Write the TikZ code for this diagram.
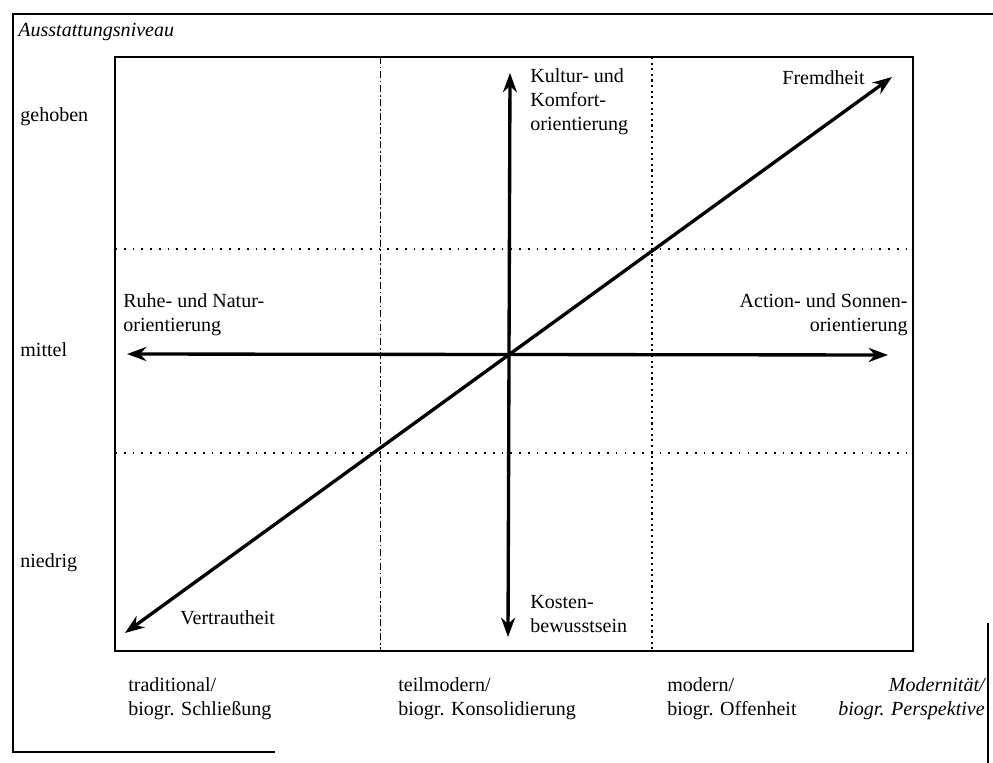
\documentclass[tikz,border=0pt]{standalone}
\usepackage{fontspec}
\setmainfont{Liberation Serif}
\usetikzlibrary{arrows.meta}
\begin{document}
\begin{tikzpicture}[x = 0.02cm, y = -0.02cm,
  lbl/.style = {inner sep = 0pt, font = \fontsize{11.4}{13.6}\selectfont, align = left},
  axis/.style = {line width = 1.9pt, {Stealth[length = 11pt, width = 8pt]}-{Stealth[length = 11pt, width = 8pt]}}]
\useasboundingbox (0,0) rectangle (993,763);
\draw [line width = 1.1pt] (275,752) -- (13,752) -- (13,14) -- (993,14);
\draw [line width = 1.1pt] (988,623) -- (988,763);
\draw [line width = 1.6pt] (115,57) rectangle (913,651);
\draw [line width = 0.5pt, dash pattern = on 4pt off 1.5pt on 1pt off 1.5pt] (380,57) -- (380,651);
\draw [line width = 1.4pt, dash pattern = on 1.2pt off 2pt] (652,57) -- (652,651);
\foreach \y in {249,453} \draw [line width = 0.6pt, dash pattern = on 1pt off 4pt] (115,\y) -- (913,\y);
\node [lbl, anchor = west, font = \fontsize{11.4}{13.6}\selectfont\itshape] (niveau) at (18,32) {Ausstattungsniveau};
\foreach \t/\y/\n in {gehoben/117/hoch, mittel/350/mitte, niedrig/563/tief}
  \node [lbl, anchor = west] (\n) at (20,\y) {\t};
\coordinate (trad) at (125,633);
\coordinate (fremd) at (892,77);
\coordinate (kult) at (510,73);
\coordinate (kost) at (508,637);
\coordinate (ruhe) at (127,354);
\coordinate (action) at (888,355);
\draw [axis] (trad) -- (fremd);
\draw [axis] (kost) -- (kult);
\draw [axis] (ruhe) -- (action);
\node [lbl, anchor = north west] (kultur) at (530,68) {Kultur- und\\Komfort-\\orientierung};
\node [lbl, anchor = west] (fremdheit) at (782,78) {Fremdheit};
\node [lbl, anchor = north west] (natur) at (123,293) {Ruhe- und Natur-\\orientierung};
\node [lbl, anchor = north east, align = right] (sonne) at (908,293) {Action- und Sonnen-\\orientierung};
\node [lbl, anchor = north west] (kosten) at (530,595) {Kosten-\\bewusstsein};
\node [lbl, anchor = west] (vertraut) at (180,618) {Vertrautheit};
\node [lbl, anchor = north west] (traditional) at (128,677) {traditional/\\biogr. Schließung};
\node [lbl, anchor = north west] (teilmodern) at (398,677) {teilmodern/\\biogr. Konsolidierung};
\node [lbl, anchor = north west] (modern) at (667,677) {modern/\\biogr. Offenheit};
\node [lbl, anchor = north east, align = right, font = \fontsize{11.4}{13.6}\selectfont\itshape] (perspektive) at (985,677) {Modernität/\\biogr. Perspektive};
\end{tikzpicture}
\end{document}
